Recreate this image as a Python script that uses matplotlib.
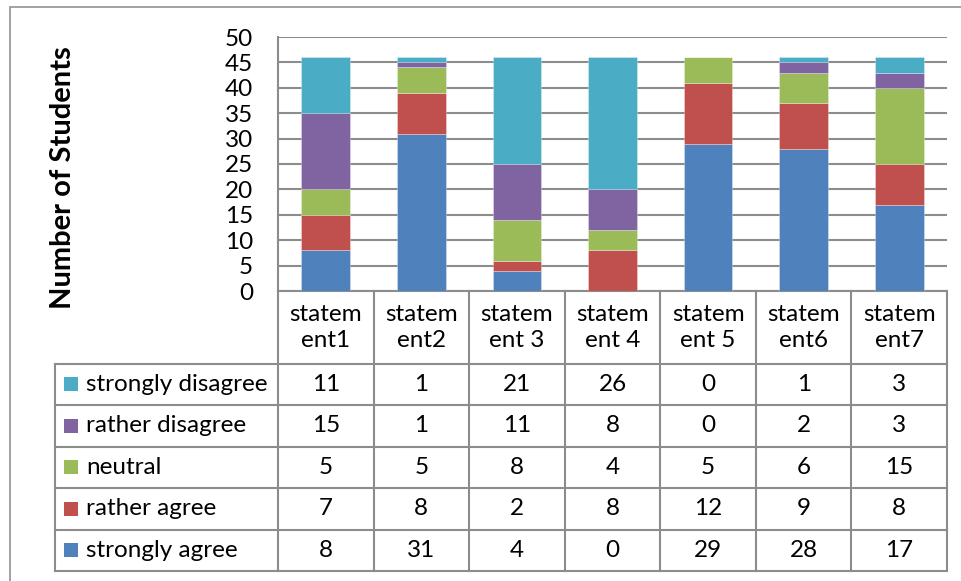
import matplotlib
matplotlib.use("Agg")
import matplotlib.pyplot as plt
from matplotlib.patches import Rectangle
from matplotlib.lines import Line2D

# ---- data ----
statements = ["statem\nent1", "statem\nent2", "statem\nent 3", "statem\nent 4",
              "statem\nent 5", "statem\nent6", "statem\nent7"]
strongly_agree = [8, 31, 4, 0, 29, 28, 17]
rather_agree = [7, 8, 2, 8, 12, 9, 8]
neutral = [5, 5, 8, 4, 5, 6, 15]
rather_disagree = [15, 1, 11, 8, 0, 2, 3]
strongly_disagree = [11, 1, 21, 26, 0, 1, 3]

series_names = ["strongly agree", "rather agree", "neutral",
                "rather disagree", "strongly disagree"]
series_values = [strongly_agree, rather_agree, neutral,
                 rather_disagree, strongly_disagree]
series_colors = ["#4F81BD", "#C0504D", "#9BBB59", "#8064A2", "#4BACC6"]

y_ticks = [0, 5, 10, 15, 20, 25, 30, 35, 40, 45, 50]

# ---- figure / layout (pixel based) ----
W, H = 962, 581
fig = plt.figure(figsize=(W / 100, H / 100), dpi=100)
plt.rcParams["font.family"] = ["Lato", "DejaVu Sans"]

FS = 17.5
GRID = "#8c8c8c"


def fx(x):
    return x / W


def fy(y):
    return 1 - y / H


# outer chart frame (only top and left edges fall inside the image)
fig.add_artist(Rectangle((fx(10), fy(640)), fx(1100), fy(7) - fy(640),
                         transform=fig.transFigure, fill=False,
                         edgecolor="#9a9a9a", linewidth=1.3))

plot_l, plot_r, plot_t, plot_b = 278, 947, 37, 291
ax = fig.add_axes([fx(plot_l), fy(plot_b), fx(plot_r - plot_l),
                   fy(plot_t) - fy(plot_b)])

n = len(statements)
xs = list(range(n))
bottom = [0] * n
for vals, name, col in zip(series_values, series_names, series_colors):
    ax.bar(xs, vals, width=0.51, bottom=bottom, color=col,
           edgecolor=(1, 1, 1, 0.35), linewidth=0.6, label=name, zorder=3)
    bottom = [b + v for b, v in zip(bottom, vals)]

ax.set_xlim(-0.5, n - 0.5)
ax.set_ylim(0, 50)
ax.set_yticks(y_ticks)
ax.set_yticklabels([str(t) for t in y_ticks], fontsize=FS)
ax.tick_params(axis="y", length=0, pad=18)
ax.set_xticks([])
ax.yaxis.grid(True, color=GRID, linewidth=1.5, zorder=0)
for side in ["top", "right"]:
    ax.spines[side].set_visible(False)
ax.spines["left"].set_color(GRID)
ax.spines["left"].set_linewidth(1.5)
ax.spines["bottom"].set_color(GRID)
ax.spines["bottom"].set_linewidth(1.5)
ax.set_axisbelow(True)

fig.text(fx(63), fy(178), "Number of Students", rotation=90, ha="center",
         va="center", fontsize=21, fontweight="bold")

# ---- data table below the plot ----
col_w = (plot_r - plot_l) / n
col_x = [plot_l + i * col_w for i in range(n + 1)]
leg_l = 55
head_t, head_b = plot_b, 363.5
row_h = (571 - head_b) / 5
row_y = [head_b + i * row_h for i in range(6)]


def hline(x0, x1, y):
    fig.add_artist(Line2D([fx(x0), fx(x1)], [fy(y), fy(y)],
                          transform=fig.transFigure, color=GRID, linewidth=1.5))


def vline(x, y0, y1):
    fig.add_artist(Line2D([fx(x), fx(x)], [fy(y0), fy(y1)],
                          transform=fig.transFigure, color=GRID, linewidth=1.5))


# header cells
for i in range(n + 1):
    vline(col_x[i], head_t, row_y[-1])
for i, lab in enumerate(statements):
    cx = (col_x[i] + col_x[i + 1]) / 2
    fig.text(fx(cx), fy((head_t + head_b) / 2), lab, ha="center",
             va="center", fontsize=FS, linespacing=1.3)

# body rows
for y in row_y:
    hline(leg_l, plot_r, y)
vline(leg_l, head_b, row_y[-1])

table_rows = list(zip(series_names, series_values, series_colors))[::-1]
for r, (name, vals, col) in enumerate(table_rows):
    cy = (row_y[r] + row_y[r + 1]) / 2
    fig.add_artist(Rectangle((fx(64), fy(cy + 7)), fx(14), fy(cy - 7) - fy(cy + 7),
                             transform=fig.transFigure, facecolor=col,
                             edgecolor="none"))
    fig.text(fx(86), fy(cy), name, ha="left", va="center", fontsize=FS)
    for i, v in enumerate(vals):
        cx = (col_x[i] + col_x[i + 1]) / 2
        fig.text(fx(cx), fy(cy), str(v), ha="center", va="center", fontsize=FS)

fig.savefig("out.png", dpi=100)
